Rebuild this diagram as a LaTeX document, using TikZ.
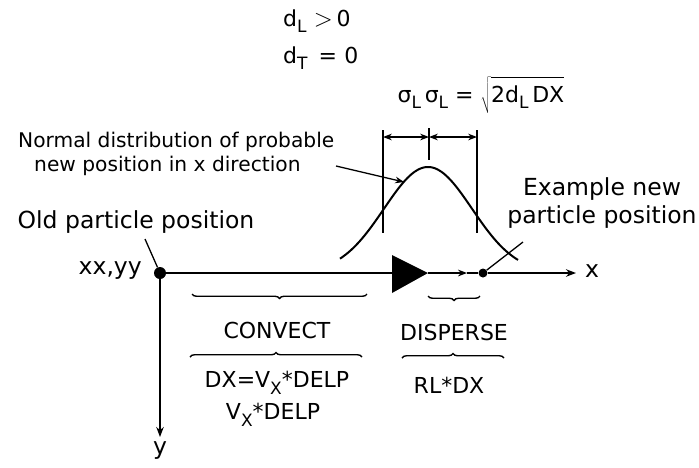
\documentclass[tikz,border=0pt]{standalone}
\usepackage{fontspec}
\setmainfont{DejaVu Sans}
\usetikzlibrary{arrows.meta, positioning, decorations.pathreplacing}
\newcommand{\lsub}[1]{\raisebox{-0.55ex}{\fontsize{17}{17}\selectfont #1}}
\newcommand{\bigrel}[1]{{\fontsize{29}{29}\selectfont #1}}

\begin{document}
\begin{tikzpicture}[
			x=1pt, y=-1pt,
			>=Stealth,
			lbl/.style   = {font=\fontsize{23.5}{28}\selectfont, inner sep=0pt},
			caps/.style  = {font=\fontsize{22}{26}\selectfont, inner sep=0pt},
			note/.style  = {font=\fontsize{20.2}{24}\selectfont, inner sep=0pt, align=left},
			dot/.style   = {circle, fill, inner sep=0pt, minimum size=12pt},
			axis/.style  = {line width=1.6pt},
			dim/.style   = {line width=1.3pt},
			brc/.style   = {decorate, decoration={brace, amplitude=4.5pt}, line width=1.4pt}
			]
			\useasboundingbox (0,0) rectangle (699,467);
			
			%% ── Particles and axes ────────────────────────────────────────
			\node [dot] (old) at (160,273) {};
			\node [dot, minimum size=9pt] (new) at (483,273) {};
			\coordinate (tribase) at (392,273);
			\coordinate (tip)     at (428,273);
			\coordinate (mid)     at (467,273);
			\coordinate (xend)    at (576,273);
			\coordinate (yend)    at (160,437);
			
			\draw [line width=2.6pt] (old) -- (tribase);
			\fill (392,255) -- (tip) -- (392,293) -- cycle;
			\draw [axis, -{Stealth[length=9pt]}] (tip) -- (mid);
			\draw [axis] (mid) -- (new);
			\draw [axis, -{Stealth[length=10pt]}] (new) -- (xend);
			\draw [axis, -{Stealth[length=10pt]}] (old) -- (yend);
			
			\node [lbl, anchor=east] (xxyy) at (142,271) {xx,yy};
			\node [lbl, right=9pt of xend, yshift=2pt] (xlab) {x};
			\node [lbl, below=4pt of yend] (ylab) {y};
			
			%% ── Distribution ──────────────────────────────────────────────
			\draw [line width=2pt] plot [domain=340:518, samples=80, smooth]
			(\x, {273-106*exp(-((\x-428)^2)/(2*44^2))});
			
			\draw [dim] (383,130) -- (383,233);
			\draw [dim] (477,130) -- (477,233);
			\draw [dim] (429,128) -- (429,160);
			\draw [dim, <->] (383,137) -- (429,137);
			\draw [dim, <->] (429,137) -- (477,137);
			
			\node [caps] (sigma) at (481,95)
			{σ\lsub{L}\,σ\lsub{L} = $\sqrt{\mbox{\rule[-0.45em]{0pt}{1.5em}2d\lsub{L}\,DX}}$};
			\node [caps, anchor=west] (dl) at (283,21) {d\lsub{L}\,\,\bigrel{$>$}\,0};
			\node [caps, anchor=west] (dt) at (283,58) {d\lsub{T}\,\,\,=\,\,0};
			
			%% ── Labels with leaders ───────────────────────────────────────
			\node [note, anchor=west] (normal) at (18,154)
			{Normal distribution of probable\\\hspace*{16pt}new position in x direction};
			\coordinate (curvept) at (404,182);
			\draw [dim, ->] (336,166) -- (curvept);
			
			\node [lbl] (oldlab) at (136,222) {Old particle position};
			\draw [dim] (145,239) -- (old);
			
			\node [lbl, align=center] (newlab) at (602,203) {Example new\\particle position};
			\draw [dim] (523,242) -- (new);
			
			%% ── Steps ─────────────────────────────────────────────────────
			\draw [brc, decoration={mirror}] (192,294) -- (367,294);
			\node [caps] (convect) at (277,330) {CONVECT};
			\draw [brc] (190,357) -- (362,357);
			\node [caps] (dxeq) at (277,383) {DX=V\lsub{X}*DELP};
			\node [caps] (vxd)  at (273,415) {V\lsub{X}*DELP};
			
			\draw [brc, decoration={mirror}] (428,296) -- (480,296);
			\node [caps] (disperse) at (454,332) {DISPERSE};
			\draw [brc] (402,358) -- (504,358);
			\node [caps] (rldx) at (449,385) {RL*DX};
			
		\end{tikzpicture}
\end{document}
